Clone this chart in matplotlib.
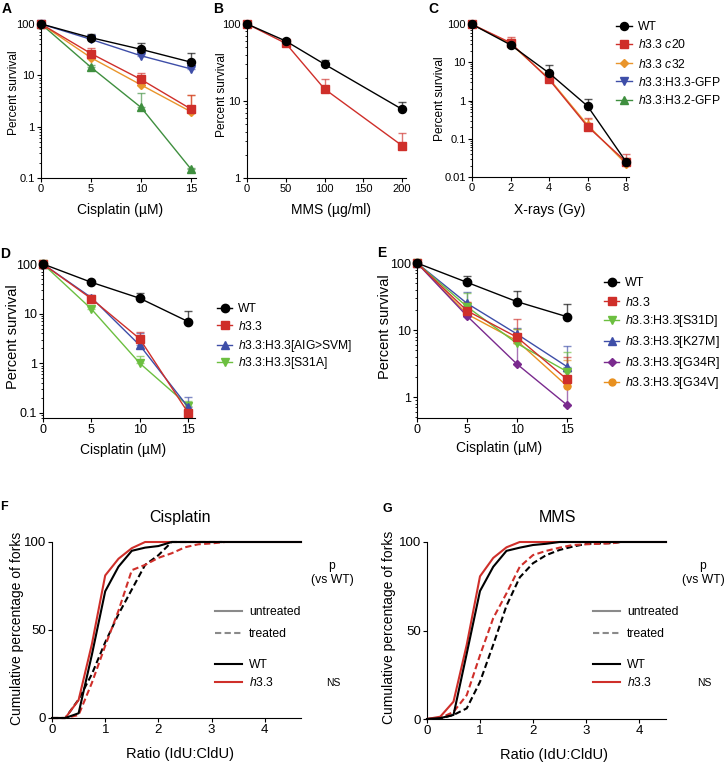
import numpy as np
import matplotlib
matplotlib.use('Agg')
import matplotlib.pyplot as plt
from matplotlib.ticker import FixedLocator, FixedFormatter, LogLocator, NullFormatter
from matplotlib.lines import Line2D

plt.rcParams['font.family'] = ['Liberation Sans', 'DejaVu Sans']
plt.rcParams['mathtext.fontset'] = 'custom'
plt.rcParams['mathtext.rm'] = 'Liberation Sans'
plt.rcParams['mathtext.it'] = 'Liberation Sans:italic'
plt.rcParams['mathtext.bf'] = 'Liberation Sans:bold'

# ---------------- DATA ----------------
# Panel A: cisplatin survival
A_dose = [0, 5, 10, 15]
A_WT = [100, 54, 32, 18];        A_WT_err = [0, 10, 10, 9.6]
A_c20 = [100, 26.5, 8.3, 2.2];   A_c20_err = [0, 7.5, 2.6, 2.0]
A_c32 = [100, 22, 6.5, 1.95];    A_c32_err = [0, 3, 1.0, 2.2]
A_H33 = [100, 50, 24, 13.3];     A_H33_err = [0, 3, 2, 1.5]
A_H32 = [100, 14.3, 2.37, 0.149]; A_H32_err = [0, 1.5, 2.1, 0.01]

# Panel B: MMS survival
B_dose = [0, 50, 100, 200]
B_WT = [100, 60, 30, 7.8];       B_WT_err = [0, 4, 4, 2]
B_h33 = [100, 56, 14.3, 2.63];   B_h33_err = [0, 3, 5, 1.2]

# Panel C: X-ray survival
C_dose = [0, 2, 4, 6, 8]
C_WT = [100, 29, 5.3, 0.72, 0.025];   C_WT_err = [0, 3, 3.3, 0.4, 0.005]
C_c20 = [100, 33, 3.6, 0.21, 0.025];  C_c20_err = [0, 14, 0.8, 0.14, 0.015]
C_c32 = [100, 31, 3.8, 0.23, 0.022];  C_c32_err = [0, 10, 1.0, 0.1, 0.01]

# Panel D
D_dose = [0, 5, 10, 15]
D_WT = [100, 42.8, 20.4, 6.9];   D_WT_err = [0, 3, 6.1, 4.4]
D_h33 = [100, 20, 3.1, 0.1];     D_h33_err = [0, 2, 1.1, 0.01]
D_AIG = [100, 21, 2.3, 0.13];    D_AIG_err = [0, 3, 1.7, 0.08]
D_S31A = [100, 12.4, 1.0, 0.14]; D_S31A_err = [0, 1, 0.4, 0.03]

# Panel E
E_dose = [0, 5, 10, 15]
E_WT = [100, 51.5, 26.5, 15.8];  E_WT_err = [0, 13, 12, 8.4]
E_h33 = [100, 19.4, 7.8, 1.84];  E_h33_err = [0, 7, 6.7, 2.1]
E_S31D = [100, 22.3, 6.3, 2.4];  E_S31D_err = [0, 14, 3.9, 2.3]
E_K27M = [100, 25, 8.7, 2.84];   E_K27M_err = [0, 11.5, 2, 3]
E_G34R = [100, 16.2, 3.1, 0.76]; E_G34R_err = [0, 2, 3.2, 1.2]
E_G34V = [100, 17.3, 6.9, 1.46]; E_G34V_err = [0, 9, 3.3, 2.1]

# Panel F: cumulative fork ratios, cisplatin
F_WT_unt_x = [0, 0.25, 0.5, 0.75, 1.0, 1.25, 1.5, 1.75, 2.0, 2.25, 4.68]
F_WT_unt_y = [0, 0, 2.7, 36, 72, 86, 95, 96.8, 97.7, 100, 100]
F_h33_unt_x = [0, 0.25, 0.5, 0.75, 1.0, 1.25, 1.5, 1.75, 4.68]
F_h33_unt_y = [0, 0, 10.2, 42, 81, 90.5, 96.5, 100, 100]
F_WT_trt_x = [0, 0.25, 0.5, 0.75, 1.0, 1.25, 1.5, 1.75, 2.0, 2.25, 3.2]
F_WT_trt_y = [0, 0, 10.5, 25, 43, 59, 73, 87, 92.5, 100, 100]
F_h33_trt_x = [0, 0.25, 0.5, 0.75, 1.0, 1.25, 1.5, 1.75, 2.0, 2.25, 2.5, 2.75, 3.0, 3.25]
F_h33_trt_y = [0, 0, 1.7, 20, 41, 61, 84, 87, 91, 93.6, 97, 98.7, 99.2, 100]

# Panel G: cumulative fork ratios, MMS
G_WT_unt_x = [0, 0.25, 0.5, 0.75, 1.0, 1.25, 1.5, 1.75, 2.0, 2.25, 2.5, 4.51]
G_WT_unt_y = [0, 0.5, 2.3, 37, 72.3, 86, 95, 96.8, 98.3, 99, 100, 100]
G_h33_unt_x = [0, 0.25, 0.5, 0.75, 1.0, 1.25, 1.5, 1.75, 4.51]
G_h33_unt_y = [0, 1.3, 9.8, 42, 80.6, 91, 97, 100, 100]
G_WT_trt_x = [0, 0.25, 0.5, 0.75, 1.0, 1.25, 1.5, 1.75, 2.0, 2.25, 2.5, 2.75, 3.0, 3.25, 3.5, 3.65]
G_WT_trt_y = [0, 0.3, 2.3, 6, 21, 42, 64, 80, 88, 92.6, 95.5, 97.4, 98.9, 99.2, 99.4, 100]
G_h33_trt_x = [0, 0.25, 0.5, 0.75, 1.0, 1.25, 1.5, 1.75, 2.0, 2.25, 2.5, 2.75, 3.0, 3.25, 3.5, 3.65]
G_h33_trt_y = [0, 0.5, 4, 13.5, 36, 57, 71, 86, 92.6, 95, 96.8, 98.3, 98.7, 99, 99.3, 100]

# Tick labels
surv_xticks_cis = [0, 5, 10, 15]
surv_xticks_mms = [0, 50, 100, 150, 200]
surv_xticks_xr = [0, 2, 4, 6, 8]
fork_xticks = [0, 1, 2, 3, 4]
fork_yticks = [0, 50, 100]

# ---------------- STYLE ----------------
BLACK = '#000000'
RED = '#cf2f2a'
ORANGE = '#e9952c'
BLUE = '#3e4ea8'
GREEN_D = '#3f8f3f'
GREEN_L = '#6cbf40'
PURPLE = '#7a2a8e'
ORANGE_E = '#e8901f'
GREY = '#8a8a8a'

W, H = 726, 762
fig = plt.figure(figsize=(W / 100, H / 100), dpi=100)


def fx(px):
    return px / W


def fy(py):
    return 1 - py / H


def make_axes(l, t, r, b):
    return fig.add_axes([fx(l), fy(b), (r - l) / W, (b - t) / H])


def style_common(ax, tick_fs):
    for s in ['top', 'right']:
        ax.spines[s].set_visible(False)
    for s in ['left', 'bottom']:
        ax.spines[s].set_linewidth(0.8)
    ax.tick_params(which='major', direction='out', length=3, width=0.8,
                   labelsize=tick_fs, pad=1.5)


def style_surv(ax, xticks, xlim, ylim, yticks, tick_fs):
    ax.set_yscale('log')
    ax.set_xlim(xlim)
    ax.set_ylim(ylim)
    style_common(ax, tick_fs)
    ax.xaxis.set_major_locator(FixedLocator(xticks))
    ax.xaxis.set_major_formatter(FixedFormatter([str(v) for v in xticks]))
    ax.yaxis.set_major_locator(FixedLocator(yticks))
    ax.yaxis.set_major_formatter(FixedFormatter([('%g' % v) for v in yticks]))
    ax.yaxis.set_minor_locator(LogLocator(base=10, subs=np.arange(2, 10), numticks=30))
    ax.yaxis.set_minor_formatter(NullFormatter())
    ax.tick_params(which='minor', direction='out', length=1.5, width=0.6)


def series(ax, x, y, err, color, marker, ms, z=2):
    x = np.asarray(x, float)
    y = np.asarray(y, float)
    err = np.asarray(err, float)
    m = err > 0
    ax.errorbar(x[m], y[m], yerr=[np.zeros(m.sum()), err[m]], fmt='none',
                ecolor=color, elinewidth=1, capsize=3, capthick=1, alpha=0.65,
                zorder=z, clip_on=False)
    ln, = ax.plot(x, y, color=color, marker=marker, ms=ms, lw=1, mec=color,
                  zorder=z + 0.5, clip_on=False)
    return ln


def xlab(ax, text, xc, yc, fs):
    ax.set_xlabel(text, fontsize=fs)
    ax.xaxis.label.set_va('center')
    ax.xaxis.set_label_coords(fx(xc), fy(yc), transform=fig.transFigure)


def ylab(ax, text, xc, yc, fs):
    ax.set_ylabel(text, fontsize=fs)
    ax.yaxis.label.set_va('center')
    ax.yaxis.set_label_coords(fx(xc), fy(yc), transform=fig.transFigure)


def leg(handle, label, xpx, ypx, fs, hl_px, pad_px):
    fsp = fs * 100 / 72
    fig.legend([handle], [label], loc='center left',
               bbox_to_anchor=(fx(xpx), fy(ypx)), bbox_transform=fig.transFigure,
               frameon=False, borderpad=0, borderaxespad=0,
               handlelength=hl_px / fsp, handletextpad=pad_px / fsp,
               fontsize=fs, numpoints=1)


def panel_label(t, x, y, fs=10):
    fig.text(fx(x), fy(y), t, fontweight='bold', fontsize=fs, ha='left', va='baseline')


H33 = r'$\mathit{h3.3}$'

# ---------------- PANEL A ----------------
axA = make_axes(41, 22, 196, 178)
style_surv(axA, surv_xticks_cis, (0, 15.5), (0.1, 109), [0.1, 1, 10, 100], 8)
series(axA, A_dose, A_H32, A_H32_err, GREEN_D, '^', 5.5)
series(axA, A_dose, A_H33, A_H33_err, BLUE, 'v', 5.5)
series(axA, A_dose, A_c32, A_c32_err, ORANGE, 'D', 4.2)
series(axA, A_dose, A_c20, A_c20_err, RED, 's', 5.2)
series(axA, A_dose, A_WT, A_WT_err, BLACK, 'o', 5.8)
xlab(axA, 'Cisplatin (µM)', 120.5, 210, 10)
ylab(axA, 'Percent survival', 14.5, 93, 8.6)

# ---------------- PANEL B ----------------
axB = make_axes(247, 22, 406, 178)
style_surv(axB, surv_xticks_mms, (0, 205), (1, 106), [1, 10, 100], 8)
series(axB, B_dose, B_h33, B_h33_err, RED, 's', 5.2)
series(axB, B_dose, B_WT, B_WT_err, BLACK, 'o', 5.8)
xlab(axB, 'MMS (µg/ml)', 330.7, 210, 10)
ylab(axB, 'Percent survival', 222, 95, 8.6)

# ---------------- PANEL C ----------------
axC = make_axes(472, 22, 629, 177)
style_surv(axC, surv_xticks_xr, (0, 8.15), (0.01, 115), [0.01, 0.1, 1, 10, 100], 8)
lC32 = series(axC, C_dose, C_c32, C_c32_err, ORANGE, 'D', 4.2)
lC20 = series(axC, C_dose, C_c20, C_c20_err, RED, 's', 5.2)
lCWT = series(axC, C_dose, C_WT, C_WT_err, BLACK, 'o', 5.8)
xlab(axC, 'X-rays (Gy)', 550, 210, 10)
ylab(axC, 'Percent survival', 440, 99, 8.6)

hA_blue = Line2D([], [], color=BLUE, marker='v', ms=5.5, lw=1)
hA_green = Line2D([], [], color=GREEN_D, marker='^', ms=5.5, lw=1)
C_leg = [(lCWT, 'WT'), (lC20, r'$\mathit{h3.3}$ $\mathit{c20}$'),
         (lC32, r'$\mathit{h3.3}$ $\mathit{c32}$'),
         (hA_blue, H33 + ':H3.3-GFP'), (hA_green, H33 + ':H3.2-GFP')]
for (h, lab), yy in zip(C_leg, [27, 45, 64, 82, 101]):
    leg(h, lab, 616, yy, 8.7, 16, 6)

# ---------------- PANEL D ----------------
axD = make_axes(43, 261, 195, 418)
style_surv(axD, surv_xticks_cis, (0, 15.7), (0.079, 115), [0.1, 1, 10, 100], 9)
lDS = series(axD, D_dose, D_S31A, D_S31A_err, GREEN_L, 'v', 5.5)
lDA = series(axD, D_dose, D_AIG, D_AIG_err, BLUE, '^', 5.5)
lDh = series(axD, D_dose, D_h33, D_h33_err, RED, 's', 5.5)
lDW = series(axD, D_dose, D_WT, D_WT_err, BLACK, 'o', 6)
xlab(axD, 'Cisplatin (µM)', 123, 450, 10)
ylab(axD, 'Percent survival', 13, 337, 10.5)
D_leg = [(lDW, 'WT'), (lDh, H33), (lDA, H33 + ':H3.3[AIG>SVM]'), (lDS, H33 + ':H3.3[S31A]')]
for (h, lab), yy in zip(D_leg, [309, 326, 346, 363]):
    leg(h, lab, 217, yy, 8.7, 15, 6)

# ---------------- PANEL E ----------------
axE = make_axes(417, 260, 571, 418)
style_surv(axE, surv_xticks_cis, (0, 15.4), (0.486, 111), [1, 10, 100], 9)
lEV = series(axE, E_dose, E_G34V, E_G34V_err, ORANGE_E, 'o', 5)
lER = series(axE, E_dose, E_G34R, E_G34R_err, PURPLE, 'D', 4)
lEK = series(axE, E_dose, E_K27M, E_K27M_err, BLUE, '^', 5.5)
lES = series(axE, E_dose, E_S31D, E_S31D_err, GREEN_L, 'v', 5.5)
lEh = series(axE, E_dose, E_h33, E_h33_err, RED, 's', 5.5)
lEW = series(axE, E_dose, E_WT, E_WT_err, BLACK, 'o', 6)
xlab(axE, 'Cisplatin (µM)', 499, 448, 10)
ylab(axE, 'Percent survival', 385, 327, 10.5)
E_leg = [(lEW, 'WT'), (lEh, H33), (lES, H33 + ':H3.3[S31D]'), (lEK, H33 + ':H3.3[K27M]'),
         (lER, H33 + ':H3.3[G34R]'), (lEV, H33 + ':H3.3[G34V]')]
for (h, lab), yy in zip(E_leg, [283, 302, 321, 342, 363, 383]):
    leg(h, lab, 604, yy, 9, 15, 6)


# ---------------- PANELS F, G ----------------
def fork_axes(ax, xmax, title, tx):
    ax.set_xlim(0, xmax)
    ax.set_ylim(0, 100)
    style_common(ax, 9.5)
    ax.xaxis.set_major_locator(FixedLocator(fork_xticks))
    ax.xaxis.set_major_formatter(FixedFormatter([str(v) for v in fork_xticks]))
    ax.yaxis.set_major_locator(FixedLocator(fork_yticks))
    ax.yaxis.set_major_formatter(FixedFormatter([str(v) for v in fork_yticks]))
    ax.set_title(title, fontsize=11.5, x=tx, y=1.14, va='center', pad=0)


LW = 1.5
DASH = (0, (3, 1.6))

axF = make_axes(52, 542, 301, 718)
fork_axes(axF, 4.68, 'Cisplatin', (180.5 - 52) / 249)
axF.plot(F_WT_trt_x, F_WT_trt_y, color=BLACK, lw=LW, ls=DASH, clip_on=False, zorder=2)
axF.plot(F_h33_trt_x, F_h33_trt_y, color=RED, lw=LW, ls=DASH, clip_on=False, zorder=2)
axF.plot(F_h33_unt_x, F_h33_unt_y, color=RED, lw=LW, clip_on=False, zorder=3)
axF.plot(F_WT_unt_x, F_WT_unt_y, color=BLACK, lw=LW, clip_on=False, zorder=3)
xlab(axF, 'Ratio (IdU:CldU)', 180, 754, 10.5)
ylab(axF, 'Cumulative percentage of forks', 17, 628, 10)

axG = make_axes(427, 542, 666, 719)
fork_axes(axG, 4.51, 'MMS', (558 - 427) / 239)
axG.plot(G_WT_trt_x, G_WT_trt_y, color=BLACK, lw=LW, ls=DASH, clip_on=False, zorder=2)
axG.plot(G_h33_trt_x, G_h33_trt_y, color=RED, lw=LW, ls=DASH, clip_on=False, zorder=2)
axG.plot(G_h33_unt_x, G_h33_unt_y, color=RED, lw=LW, clip_on=False, zorder=3)
axG.plot(G_WT_unt_x, G_WT_unt_y, color=BLACK, lw=LW, clip_on=False, zorder=3)
xlab(axG, 'Ratio (IdU:CldU)', 554, 755, 10.5)
ylab(axG, 'Cumulative percentage of forks', 389, 627, 10)

h_unt = Line2D([], [], color=GREY, lw=LW)
h_trt = Line2D([], [], color=GREY, lw=LW, ls=DASH)
h_wt = Line2D([], [], color=BLACK, lw=LW)
h_h33 = Line2D([], [], color=RED, lw=LW)
fork_leg = [(h_unt, 'untreated'), (h_trt, 'treated'), (h_wt, 'WT'), (h_h33, H33)]
for lx in [215, 593]:
    for (h, lab), yy in zip(fork_leg, [612, 634, 665, 683]):
        leg(h, lab, lx, yy, 8.7, 27, 7)

for cx in [332, 703]:
    fig.text(fx(cx), fy(566), 'p', ha='center', va='center', fontsize=8.7)
    fig.text(fx(cx), fy(580), '(vs WT)', ha='center', va='center', fontsize=8.7)
    fig.text(fx(cx + 1), fy(683), 'NS', ha='center', va='center', fontsize=7.5)

# ---------------- PANEL LABELS ----------------
panel_label('A', 2, 13)
panel_label('B', 213, 13)
panel_label('C', 428, 13)
panel_label('D', 0, 258)
panel_label('E', 377, 257)
panel_label('F', 0, 510, 9)
panel_label('G', 383, 512, 9)

fig.savefig('out.png', dpi=100)
